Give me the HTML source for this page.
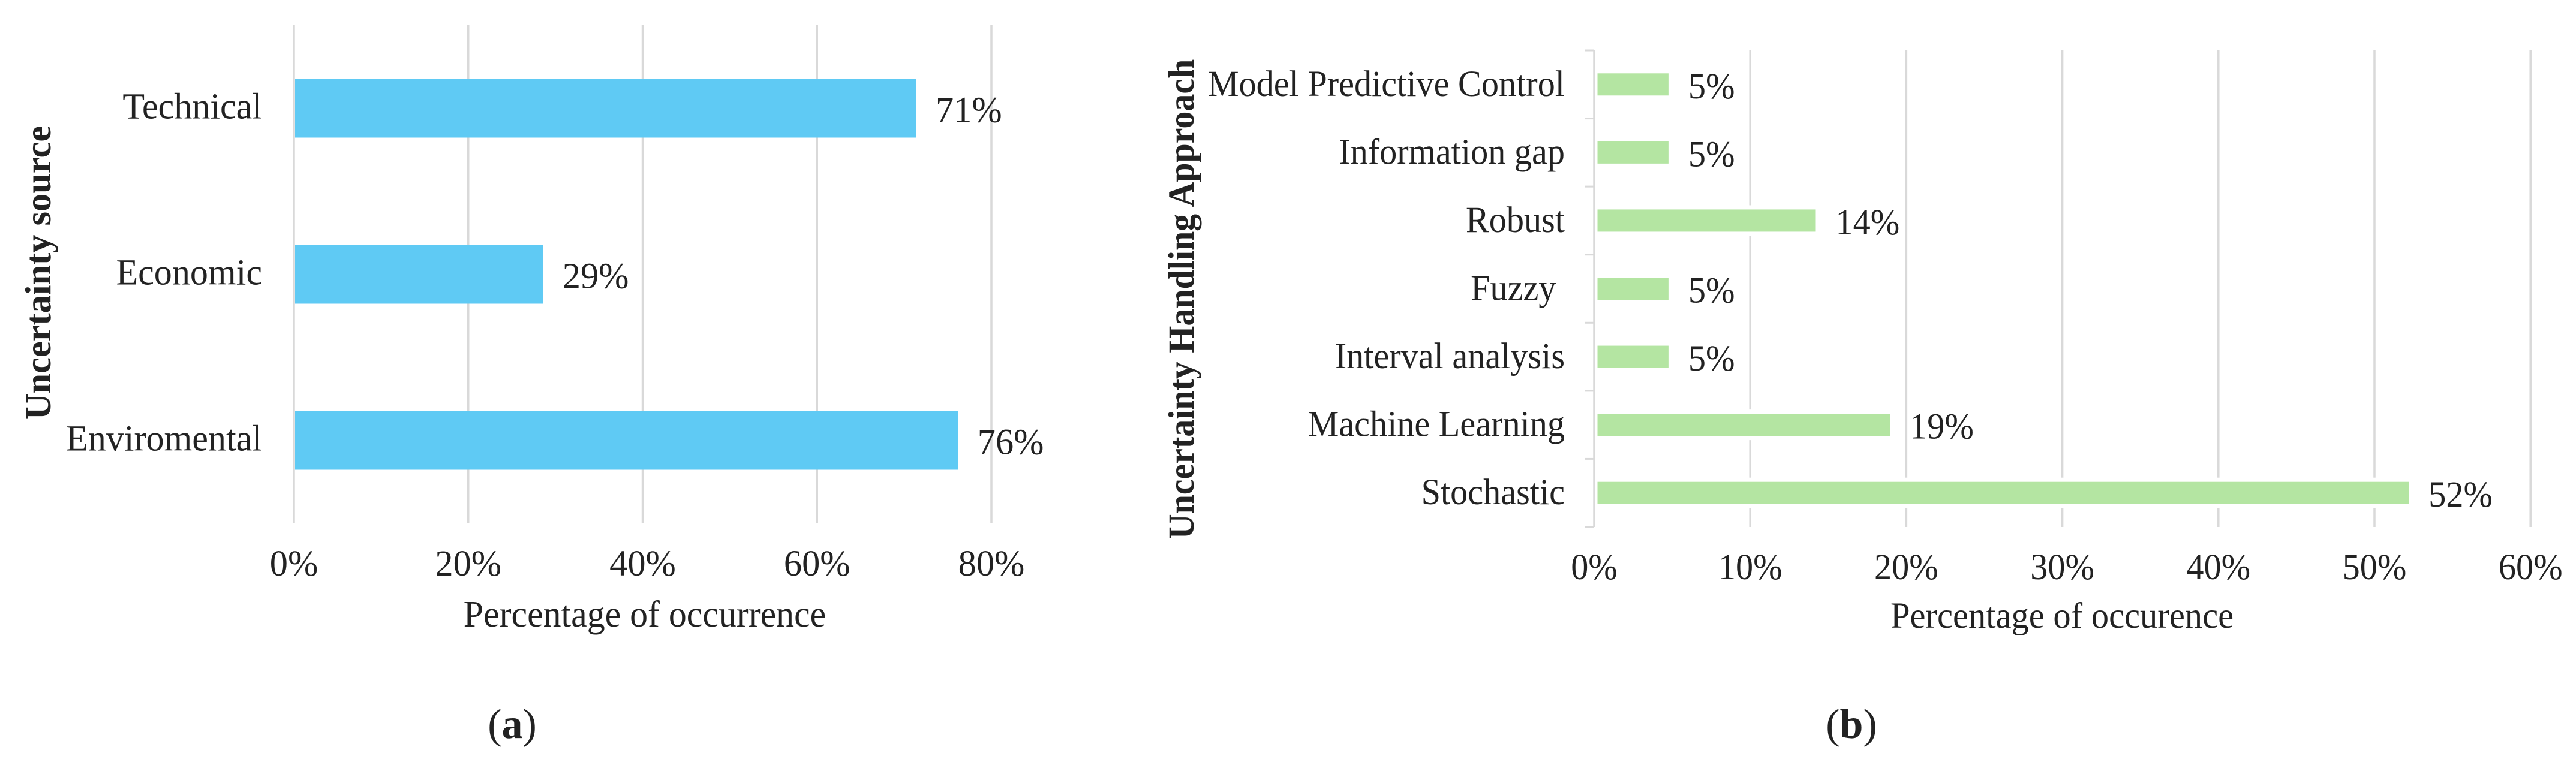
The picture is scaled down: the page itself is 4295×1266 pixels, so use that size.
<!DOCTYPE html>
<html lang="en">
<head>
<meta charset="utf-8">
<title>Uncertainty charts</title>
<style>
html,body{margin:0;padding:0;background:#fff;width:4295px;height:1266px;overflow:hidden}
svg{display:block}
text{font-family:"Liberation Serif",serif;fill:#222;white-space:pre}
</style>
</head>
<body>
<svg id="figure" xmlns="http://www.w3.org/2000/svg" width="4295" height="1266" viewBox="0 0 4295 1266"></svg>
<script>
const categoriesA = ['Technical', 'Economic', 'Enviromental'];
const valuesA = [71.4, 28.6, 76.2];
const printedA = ['71%', '29%', '76%'];
const ticksA = [0, 20, 40, 60, 80];
const tickLabelsA = ['0%', '20%', '40%', '60%', '80%'];

const categoriesB = ['Model Predictive Control', 'Information gap', 'Robust', 'Fuzzy ', 'Interval analysis', 'Machine Learning', 'Stochastic'];
const valuesB = [4.76, 4.76, 14.2, 4.76, 4.76, 18.95, 52.2];
const printedB = ['5%', '5%', '14%', '5%', '5%', '19%', '52%'];
const ticksB = [0, 10, 20, 30, 40, 50, 60];
const tickLabelsB = ['0%', '10%', '20%', '30%', '40%', '50%', '60%'];

const svg = document.getElementById('figure');
const NS = 'http://www.w3.org/2000/svg';
const GRID = '#d9d9d9';

function makeRect(parent, name, x, y, w, h, fill) {
  const el = document.createElementNS(NS, 'rect');
  
  
  el.setAttribute('x', x);
  el.setAttribute('y', y);
  el.setAttribute('width', Math.max(0, w));
  el.setAttribute('height', h);
  el.setAttribute('fill', fill);
  parent.appendChild(el);
  return el;
}

function makeText(parent, name, str, x, y, opts) {
  const o = opts || {};
  const el = document.createElementNS(NS, 'text');
  
  
  el.setAttribute('text-anchor', o.anchor || 'middle');
  el.setAttribute('font-size', o.size || 61);
  if (o.bold) el.setAttribute('font-weight', 'bold');
  const sx = o.sx || 0.955;
  const rot = o.rotate ? ' rotate(-90)' : '';
  el.setAttribute('transform', 'translate(' + x + ',' + y + ')' + rot + ' scale(' + sx + ',1)');
  el.textContent = str;
  parent.appendChild(el);
  return el;
}

function makeGroup(name) {
  const g = document.createElementNS(NS, 'g');
  
  
  svg.appendChild(g);
  return g;
}

/* Chart (a) */
const xA = v => 490 + v * (1653 - 490) / 80;
const topA = 41, bottomA = 872;
const rowA = i => topA + (bottomA - topA) * (i + 0.5) / categoriesA.length;
const chartA = makeGroup('chart-a');

ticksA.forEach((t, i) => {
  makeRect(chartA, 'grid-line-a-' + t, xA(t) - 1.75, topA, 3.5, bottomA - topA, GRID);
  makeText(chartA, 'x-tick-label-a-' + t, tickLabelsA[i], xA(t), 960, {sx: 0.99});
});
categoriesA.forEach((c, i) => {
  const cy = rowA(i) + 1;
  makeRect(chartA, 'bar-a-' + i, xA(0) + 2, cy - 49, xA(valuesA[i]) - xA(0) - 2, 98, '#5fcaf4');
  makeText(chartA, 'category-label-a-' + i, c, 437, cy + 17, {anchor: 'end', sx: 0.985});
  makeText(chartA, 'value-label-a-' + i, printedA[i], xA(valuesA[i]) + 32, cy + 23, {anchor: 'start', sx: 0.99});
});
makeText(chartA, 'x-axis-title-a', 'Percentage of occurrence', 1075, 1045, {size: 62, sx: 0.965});
makeText(chartA, 'y-axis-title-a', 'Uncertainty source', 84, 455, {bold: true, rotate: true, sx: 0.99});

/* Chart (b) */
const xB = v => 2658 + v * (3959 - 2658) / 50;
const topB = 84, bottomB = 879;
const rowB = i => topB + (bottomB - topB) * (i + 0.5) / categoriesB.length;
const chartB = makeGroup('chart-b');

ticksB.forEach((t, i) => {
  makeRect(chartB, 'grid-line-b-' + t, xB(t) - 1.75, topB, 3.5, bottomB - topB, GRID);
  makeText(chartB, 'x-tick-label-b-' + t, tickLabelsB[i], xB(t), 966);
});
for (let i = 0; i <= categoriesB.length; i++) {
  const ty = topB + (bottomB - topB) * i / categoriesB.length;
  makeRect(chartB, 'y-tick-b-' + i, 2643, ty - 1.5, 15, 3, GRID);
}
categoriesB.forEach((c, i) => {
  const cy = rowB(i);
  const right = xB(valuesB[i]);
  makeRect(chartB, 'bar-halo-b-' + i, xB(0) + 2, cy - 25.5, right - xB(0) + 5, 51, '#ffffff');
  makeRect(chartB, 'bar-b-' + i, xB(0) + 5.5, cy - 18.5, right - xB(0) - 5.5, 37, '#b4e5a2');
  makeText(chartB, 'category-label-b-' + i, c, 2609, cy + 19, {anchor: 'end'});
  makeText(chartB, 'value-label-b-' + i, printedB[i], right + 33, cy + 23, {anchor: 'start'});
});
makeText(chartB, 'x-axis-title-b', 'Percentage of occurence', 3438, 1047, {size: 61, sx: 0.96});
makeText(chartB, 'y-axis-title-b', 'Uncertainty Handling Approach', 1990, 499, {bold: true, rotate: true, sx: 0.95});

/* Sub-figure captions */
function caption(name, letter, x) {
  const el = document.createElementNS(NS, 'text');
  
  
  el.setAttribute('x', x);
  el.setAttribute('y', 1231);
  el.setAttribute('text-anchor', 'middle');
  el.setAttribute('font-size', 70);
  el.appendChild(document.createTextNode('('));
  const b = document.createElementNS(NS, 'tspan');
  b.setAttribute('font-weight', 'bold');
  b.textContent = letter;
  el.appendChild(b);
  el.appendChild(document.createTextNode(')'));
  svg.appendChild(el);
}
caption('caption-a', 'a', 854);
caption('caption-b', 'b', 3087);
</script>
</body>
</html>
